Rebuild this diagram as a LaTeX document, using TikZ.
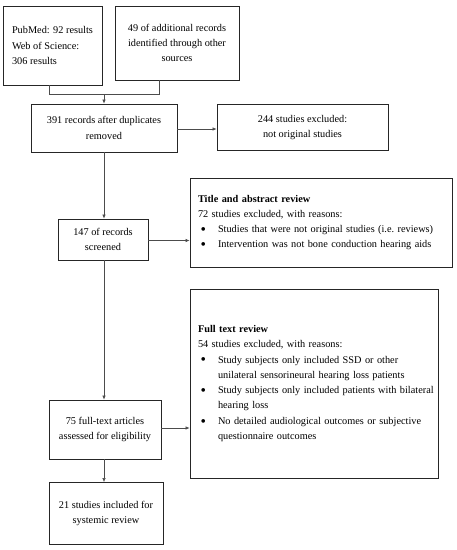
\documentclass[tikz,border=0pt]{standalone}
\usepackage{fontspec}
\setmainfont{Liberation Serif}
\usetikzlibrary{arrows.meta}
\newcommand{\bul}{\makebox[20pt][l]{\hspace{2.5pt}\raisebox{-1.8pt}{\scalebox{1.5}{\textbullet}}}}
\newcommand{\ind}{\hspace*{20pt}}
\begin{document}
\begin{tikzpicture}[x=1pt,y=-1pt,
 box/.style={draw=black!85,line width=0.8pt,inner sep=0pt,align=center,font=\fontsize{10.3}{15.3}\selectfont},
 listbox/.style={draw=black!85,line width=0.8pt,inner xsep=8pt,inner ysep=0pt,align=left,font=\fontsize{10.3}{15.3}\selectfont},
 conn/.style={draw=black!70,line width=0.6pt},
 arr/.style={conn,-{Latex[length=4pt,width=3.5pt]}}]
\useasboundingbox (0,0) rectangle (457,550);

\node[box,minimum width=99pt,minimum height=79pt,align=left] (pub) at (52.5,45.5) {PubMed: 92 results\\Web of Science:\\306 results};
\node[box,minimum width=124pt,minimum height=74pt] (add) at (177,43) {49 of additional records\\identified through other\\sources};
\node[box,minimum width=146pt,minimum height=48pt] (dup) at (104,128) {391 records after duplicates\\removed};
\node[box,minimum width=171pt,minimum height=46pt] (exc) at (302.5,127.5) {244 studies excluded:\\not original studies};
\node[box,minimum width=90pt,minimum height=41pt] (scr) at (103,239.5) {147 of records\\screened};
\node[listbox,text width=246pt,minimum height=89pt] (ta) at (321,222.5) {\mbox{\textbf{Title and abstract review}}\\\mbox{72 studies excluded, with reasons:}\\\mbox{\bul Studies that were not original studies (i.e.\ reviews)}\\\mbox{\bul Intervention was not bone conduction hearing aids}};
\node[box,minimum width=112pt,minimum height=59pt] (full) at (105,429.5) {75 full-text articles\\assessed for eligibility};
\node[listbox,text width=232pt,minimum height=189pt] (ft) at (314,383.5) {\mbox{\textbf{Full text review}}\\\mbox{54 studies excluded, with reasons:}\\\mbox{\bul Study subjects only included SSD or other}\\\mbox{\ind unilateral sensorineural hearing loss patients}\\\mbox{\bul Study subjects only included patients with bilateral}\\\mbox{\ind hearing loss}\\\mbox{\bul No detailed audiological outcomes or subjective}\\\mbox{\ind questionnaire outcomes}};
\node[box,minimum width=114pt,minimum height=62pt] (inc) at (106,513.5) {21 studies included for\\systemic review};

\coordinate (jl) at (49,94);
\coordinate (jr) at (159,94);
\coordinate (jm) at (104,94);
\draw[conn] (pub.south -| jl) -- (jl) -- (jr) -- (add.south -| jr);
\draw[arr] (jm) -- (jm |- dup.north);
\draw[arr] (dup.east |- exc.west) ++(0,1.5) coordinate (d1) -- (d1 -| exc.west);
\draw[arr] (dup.south -| jm) -- (jm |- scr.north);
\draw[arr] (scr.east |- ta.west) ++(0,18) coordinate (s1) -- (s1 -| ta.west);
\draw[arr] (scr.south -| jm) -- (jm |- full.north);
\draw[arr] (full.east |- ft.west) ++(0,44.5) coordinate (f1) -- (f1 -| ft.west);
\draw[arr] (full.south -| jm) -- (jm |- inc.north);
\end{tikzpicture}
\end{document}
